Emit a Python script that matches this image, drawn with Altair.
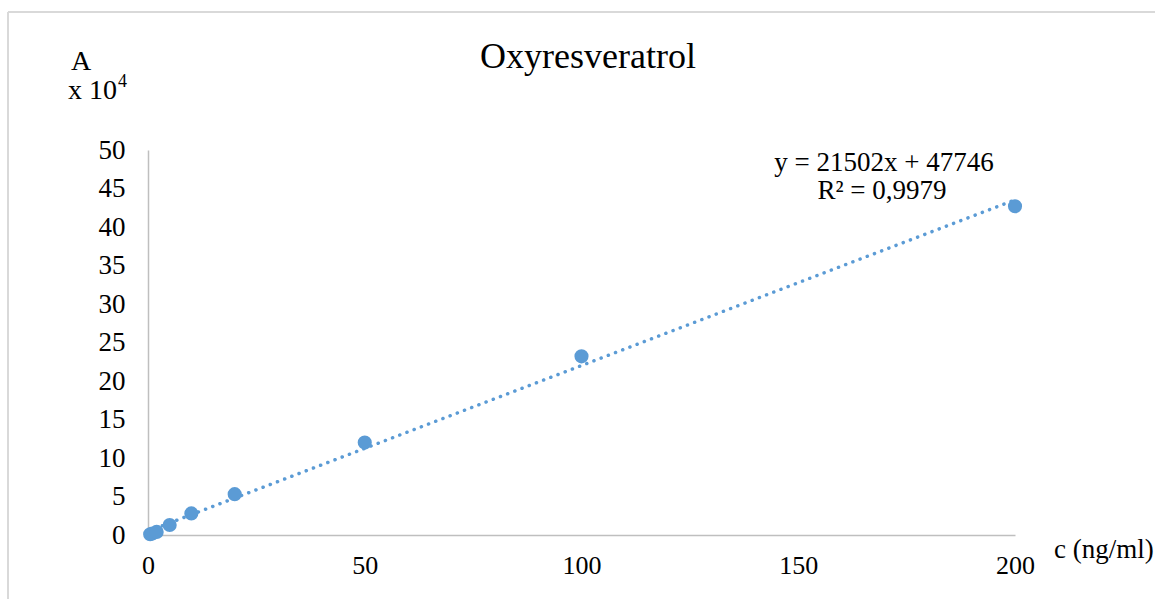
import altair as alt
import pandas as pd

# data (A in units of 10^4 as shown on the axis)
conc = [0.5, 1, 2, 5, 10, 20, 50, 100, 200]
absorb = [0.1, 0.2, 0.4, 1.3, 2.8, 5.3, 12.0, 23.2, 42.7]
x_ticks = [0, 50, 100, 150, 200]
y_ticks = [0, 5, 10, 15, 20, 25, 30, 35, 40, 45, 50]
title_text = "Oxyresveratrol"
eq_text = "y = 21502x + 47746"
r2_text = "R² = 0,9979"
x_title = "c (ng/ml)"

df = pd.DataFrame({"c": conc, "A": absorb})
FONT = "Liberation Serif"
AXIS_FONT = "'Liberation Serif', 'Times New Roman', serif"
BLUE = "#5B9BD5"

xs = alt.Scale(domain=[0, 200], nice=False, zero=True)
ys = alt.Scale(domain=[0, 50], nice=False, zero=True)

x_axis = alt.Axis(values=x_ticks, title=None, labelPadding=17, labelFontSize=26,
                  labelFont=AXIS_FONT, labelFlush=False, labelOverlap=False,
                  labelColor="black", ticks=False, grid=False,
                  domainColor="#bfbfbf", domainWidth=1.5)
y_axis = alt.Axis(values=y_ticks, title=None, labelPadding=23, labelFontSize=27,
                  labelFont=AXIS_FONT, labelOverlap=False, labelColor="black",
                  ticks=False, grid=False, domainColor="#bfbfbf", domainWidth=1.5)

base = alt.Chart(df).encode(
    x=alt.X("c:Q", scale=xs, axis=x_axis),
    y=alt.Y("A:Q", scale=ys, axis=y_axis),
)

trend = base.transform_regression("c", "A", extent=[0, 200]).mark_line(
    color=BLUE, strokeWidth=3.5, strokeDash=[0.1, 7.6], strokeCap="round"
)
points = base.mark_circle(color=BLUE, size=200, opacity=1)


def label(text, x, y, size=27, align="center", baseline="middle"):
    return alt.Chart(pd.DataFrame({"t": [text]})).mark_text(
        font=FONT, fontSize=size, color="black", align=align, baseline=baseline
    ).encode(text="t:N", x=alt.value(x), y=alt.value(y))


one = pd.DataFrame({"k": [0]})
frame_top = alt.Chart(one).mark_rule(color="#d9d9d9", strokeWidth=2).encode(
    x=alt.value(-140), x2=alt.value(1010), y=alt.value(-138)
)
frame_left = alt.Chart(one).mark_rule(color="#d9d9d9", strokeWidth=2).encode(
    x=alt.value(-140), y=alt.value(-138), y2=alt.value(452)
)

layers = [
    trend,
    points,
    frame_top,
    frame_left,
    label(title_text, 440, -93, size=36),
    label(eq_text, 736, 13),
    label(r2_text, 734, 41),
    label("A", -67, -88, size=28),
    label("x 10", -80, -59, size=28, align="left"),
    label("4", -30, -68, size=18, align="left"),
    label(x_title, 906, 400, size=27, align="left"),
]

chart = alt.layer(*layers).properties(
    width=867,
    height=385,
    padding={"left": 148, "top": 150, "right": 140, "bottom": 64},
    autosize=alt.AutoSizeParams(type="none"),
    background="white",
).configure_view(stroke=None)

chart.save("out.html", embed_options={"renderer": "svg", "actions": False})
